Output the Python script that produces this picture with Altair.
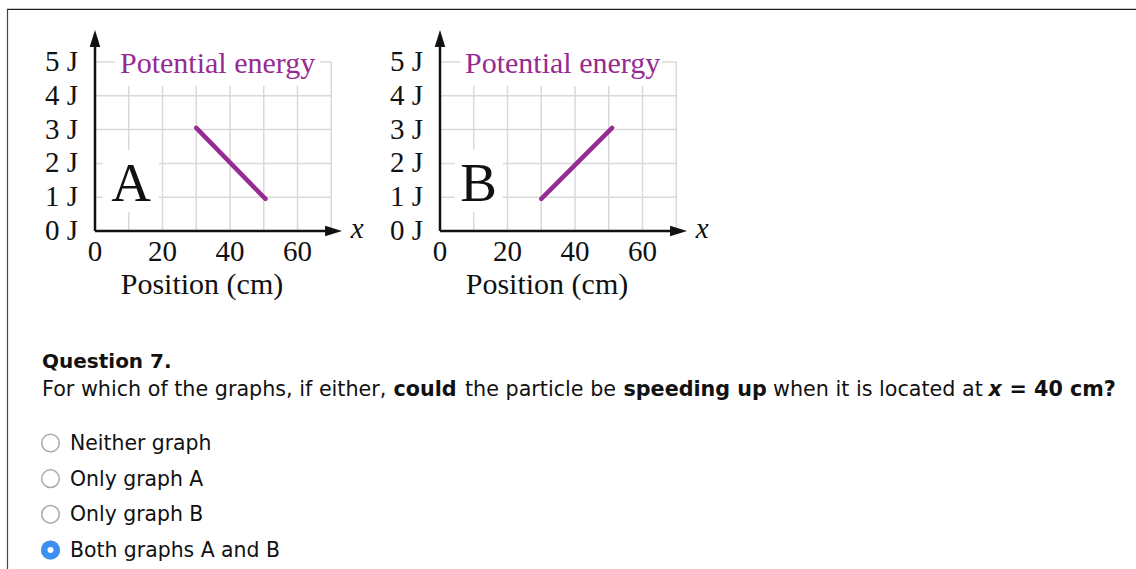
import altair as alt
import pandas as pd

# Two potential-energy graphs (position in cm, energy in J) above a
# multiple-choice question.
position_a = [30, 50.5]
energy_a = [3.05, 0.95]
position_b = [30, 51]
energy_b = [0.95, 3.05]

x_ticks = [0, 20, 40, 60]
y_ticks = [0, 1, 2, 3, 4, 5]
x_grid = [10, 20, 30, 40, 50, 60, 70]
y_grid = [1, 2, 3, 4, 5]

options = ["Neither graph", "Only graph A", "Only graph B", "Both graphs A and B"]
selected = "Both graphs A and B"

SERIF = "Liberation Serif"
SANS = "DejaVu Sans"
PURPLE = "#962b92"
GRID = "#d9d9d9"
INK = "#111111"

W, H = 1136, 569
X_AXIS_PX = 231            # pixel row of the energy = 0 line
Y_RANGE = [X_AXIS_PX, 62]  # 0 J .. 5 J
X_TIP = 73.2               # end of the position arrow (cm)
Y_TIP = 5.95               # end of the energy arrow (J)

one = pd.DataFrame({"k": [0]})

# arrow heads as custom symbols, tip at the anchor point
ARROW_RIGHT = "M0,0 L-2,-0.62 L-2,0.62 Z"
ARROW_UP = "M0,0 L-0.62,2 L0.62,2 Z"


def xd(v):
    return alt.XDatum(v, axis=None)


def yd(v):
    return alt.YDatum(v, axis=None)


def graph(pos, energy, letter, x_range, letter_x, letter_box, title_box):
    xs = alt.Scale(domain=[0, 70], range=x_range, nice=False, zero=False)
    ys = alt.Scale(domain=[0, 5], range=Y_RANGE, nice=False, zero=False)

    grid_v = alt.Chart(pd.DataFrame({"gx": x_grid})).mark_rule(
        color=GRID, strokeWidth=1.5
    ).encode(
        x=alt.X("gx:Q", scale=xs, axis=None),
        y=yd(0),
        y2=alt.Y2Datum(5),
    )
    grid_h = alt.Chart(pd.DataFrame({"gy": y_grid})).mark_rule(
        color=GRID, strokeWidth=1.5
    ).encode(
        y=alt.Y("gy:Q", scale=ys, axis=None),
        x=xd(0),
        x2=alt.X2Datum(70),
    )

    # tick labels placed through the graph's own scales
    x_labels = alt.Chart(pd.DataFrame({"t": x_ticks})).mark_text(
        font=SERIF, fontSize=29, color=INK, align="center", baseline="alphabetic"
    ).encode(
        x=alt.X("t:Q", scale=xs, axis=None),
        y=alt.value(X_AXIS_PX + 30),
        text="t:Q",
    )
    y_labels = alt.Chart(pd.DataFrame({"e": y_ticks})).transform_calculate(
        lab="datum.e + ' J'"
    ).mark_text(
        font=SERIF, fontSize=29, color=INK, align="right", baseline="middle"
    ).encode(
        y=alt.Y("e:Q", scale=ys, axis=None),
        x=alt.value(x_range[0] - 17),
        text="lab:N",
    )
    x_title = alt.Chart(one).mark_text(
        text="Position (cm)", font=SERIF, fontSize=30, color=INK,
        align="center", baseline="alphabetic",
    ).encode(x=xd(31.7), y=alt.value(294))

    def white_box(b):
        return alt.Chart(one).mark_rect(color="white").encode(
            x=xd(b[0]), x2=alt.X2Datum(b[1]),
            y=yd(b[2]), y2=alt.Y2Datum(b[3]),
        )

    title = alt.Chart(one).mark_text(
        text="Potential energy", font=SERIF, fontSize=30, color=PURPLE,
        align="left", baseline="alphabetic",
    ).encode(x=xd(7.4), y=yd(4.67))

    letter_mark = alt.Chart(one).mark_text(
        text=letter, font=SERIF, fontSize=55, color=INK,
        align="center", baseline="alphabetic",
    ).encode(x=xd(letter_x), y=yd(0.89))

    axis_x_line = alt.Chart(one).mark_rule(color=INK, strokeWidth=2.5).encode(
        x=xd(0), x2=alt.X2Datum(X_TIP - 3), y=yd(0)
    )
    axis_y_line = alt.Chart(one).mark_rule(color=INK, strokeWidth=2.5).encode(
        x=xd(0), y=yd(0), y2=alt.Y2Datum(Y_TIP - 0.3)
    )
    arrow_x = alt.Chart(one).mark_point(
        shape=ARROW_RIGHT, size=289, filled=True, color=INK, opacity=1
    ).encode(x=xd(X_TIP), y=yd(0))
    arrow_y = alt.Chart(one).mark_point(
        shape=ARROW_UP, size=289, filled=True, color=INK, opacity=1
    ).encode(x=xd(0), y=yd(Y_TIP))

    x_name = alt.Chart(one).mark_text(
        text="x", font=SERIF, fontSize=29, fontStyle="italic", color=INK,
        align="left", baseline="alphabetic",
    ).encode(x=xd(75.8), y=yd(-0.2))

    curve = alt.Chart(pd.DataFrame({"position": pos, "energy": energy})).mark_line(
        color=PURPLE, strokeWidth=4.5, strokeCap="round"
    ).encode(
        x=alt.X("position:Q", scale=xs, axis=None),
        y=alt.Y("energy:Q", scale=ys, axis=None),
    )

    return alt.layer(
        grid_v, grid_h, x_labels, y_labels, x_title,
        white_box(title_box), white_box(letter_box),
        title, letter_mark,
        axis_x_line, axis_y_line, arrow_x, arrow_y, x_name,
        curve,
    )


graph_a = graph(position_a, energy_a, "A", [95, 331.25], 10.7,
                [2.4, 18.9, 0.56, 2.4], [5.9, 66.7, 4.29, 5.7])
graph_b = graph(position_b, energy_b, "B", [440, 676.25], 11.4,
                [4.4, 18.6, 0.56, 2.4], [5.9, 65.8, 4.29, 5.7])

# ---- question text ----
Q_BASE = 368
L2_BASE = 395.5
L2_SIZE = 20.7
segments = [
    ("For which of the graphs, if either,", "normal", "normal", 42),
    ("could", "bold", "normal", 393.5),
    ("the particle be", "normal", "normal", 465),
    ("speeding up", "bold", "normal", 623.5),
    ("when it is located at", "normal", "normal", 773),
    ("x", "bold", "italic", 988.5),
    ("= 40 cm?", "bold", "normal", 1009.5),
]

text_layers = [
    alt.Chart(one).mark_text(
        text="Question 7.", font=SANS, fontSize=20, fontWeight="bold",
        color=INK, align="left", baseline="alphabetic",
    ).encode(x=alt.value(42), y=alt.value(Q_BASE))
]
for txt, weight, style, x0 in segments:
    text_layers.append(
        alt.Chart(one).mark_text(
            text=txt, font=SANS, fontSize=L2_SIZE, fontWeight=weight,
            fontStyle=style, color=INK, align="left", baseline="alphabetic",
        ).encode(x=alt.value(x0), y=alt.value(L2_BASE))
    )

opt_df = pd.DataFrame({"option": options})
opt_y = alt.Y("option:N", sort=options, axis=None,
              scale=alt.Scale(type="point", range=[443, 550], padding=0))

radio = alt.Chart(opt_df).mark_point(
    shape="circle", size=310, filled=True, fill="white",
    stroke="#aaaaaa", strokeWidth=1.5, opacity=1
).encode(x=alt.value(50.5), y=opt_y)
radio_on = alt.Chart(opt_df).transform_filter(
    alt.datum.option == selected
).mark_point(
    shape="circle", size=361, filled=True, fill="#3b8ff2",
    stroke="#3b8ff2", strokeWidth=0, opacity=1
).encode(x=alt.value(50.5), y=opt_y)
radio_dot = alt.Chart(opt_df).transform_filter(
    alt.datum.option == selected
).mark_point(
    shape="circle", size=36, filled=True, fill="white", opacity=1
).encode(x=alt.value(50.5), y=opt_y)
option_labels = alt.Chart(opt_df).mark_text(
    font=SANS, fontSize=20.4, color=INK, align="left", baseline="middle", dy=1
).encode(x=alt.value(70), y=opt_y, text="option:N")

panel = alt.layer(*text_layers, radio, radio_on, radio_dot, option_labels)

# page frame
frame = alt.layer(
    alt.Chart(one).mark_rule(color="#cccccc", strokeWidth=1).encode(
        x=alt.value(7), x2=alt.value(W), y=alt.value(8.5)),
    alt.Chart(one).mark_rule(color="#1a1a1a", strokeWidth=1.2).encode(
        x=alt.value(7), x2=alt.value(W), y=alt.value(9.5)),
    alt.Chart(one).mark_rule(color="#444444", strokeWidth=1.2).encode(
        x=alt.value(7.5), y=alt.value(9), y2=alt.value(H)),
)

chart = alt.layer(graph_a, graph_b, panel, frame).resolve_scale(
    x="independent", y="independent"
).properties(
    width=W, height=H, padding=0,
    autosize=alt.AutoSizeParams(type="none"),
    background="white",
).configure_view(stroke=None)

chart.save("out.html", embed_options={"renderer": "svg", "actions": False})
